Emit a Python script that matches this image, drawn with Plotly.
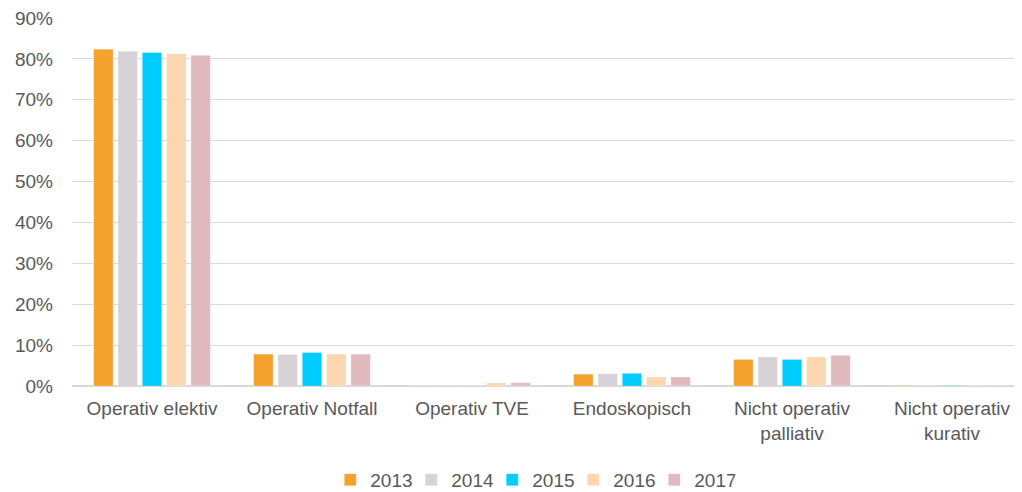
import plotly.graph_objects as go

categories = ["Operativ elektiv", "Operativ Notfall", "Operativ TVE", "Endoskopisch",
              "Nicht operativ<br>palliativ", "Nicht operativ<br>kurativ"]
years = ["2013", "2014", "2015", "2016", "2017"]
values = {
    "2013": [0.824, 0.078, 0.000, 0.029, 0.065, 0.001],
    "2014": [0.819, 0.077, 0.000, 0.030, 0.071, 0.001],
    "2015": [0.816, 0.082, 0.000, 0.031, 0.065, 0.001],
    "2016": [0.813, 0.078, 0.0075, 0.022, 0.071, 0.002],
    "2017": [0.809, 0.078, 0.008, 0.022, 0.075, 0.001],
}
colors = {"2013": "#F4A12E", "2014": "#D6D2D5", "2015": "#00CCFF",
          "2016": "#FAD7B1", "2017": "#E0BABC"}
y_ticks = [0, 0.1, 0.2, 0.3, 0.4, 0.5, 0.6, 0.7, 0.8, 0.9]

font_family = "Liberation Sans, Arial, sans-serif"
text_color = "#595959"

fig = go.Figure()
for yr in years:
    fig.add_trace(go.Bar(
        name=yr, x=categories, y=values[yr],
        marker=dict(color=colors[yr], line=dict(color="rgba(255,255,255,0.6)", width=0.5)),
    ))

fig.update_layout(
    width=1014, height=484,
    margin=dict(l=64, r=0, t=10, b=106, autoexpand=False),
    paper_bgcolor="white", plot_bgcolor="white",
    barmode="group", bargap=0.24, bargroupgap=0.2,
    font=dict(family=font_family, size=19, color=text_color),
    showlegend=True,
    legend=dict(orientation="h", x=0.485, xanchor="center", y=-0.255, yanchor="middle",
                font=dict(size=19, color=text_color), itemwidth=30,
                entrywidth=36, traceorder="normal"),
    xaxis=dict(range=[-0.5, 5.4375], showgrid=False, showline=False, ticks="",
               automargin=False, ticklabelstandoff=9,
               tickfont=dict(size=19, color=text_color)),
    yaxis=dict(range=[0, 0.9002], tickvals=y_ticks, tickformat=".0%",
               showgrid=True, gridcolor="#D9D9D9", gridwidth=1,
               zeroline=True, zerolinecolor="#D9D9D9", zerolinewidth=1.5,
               showline=False, ticks="", ticklabelstandoff=18, automargin=False,
               ticklabeloverflow="allow",
               tickfont=dict(size=19, color=text_color)),
)

fig.write_html("out.html")
